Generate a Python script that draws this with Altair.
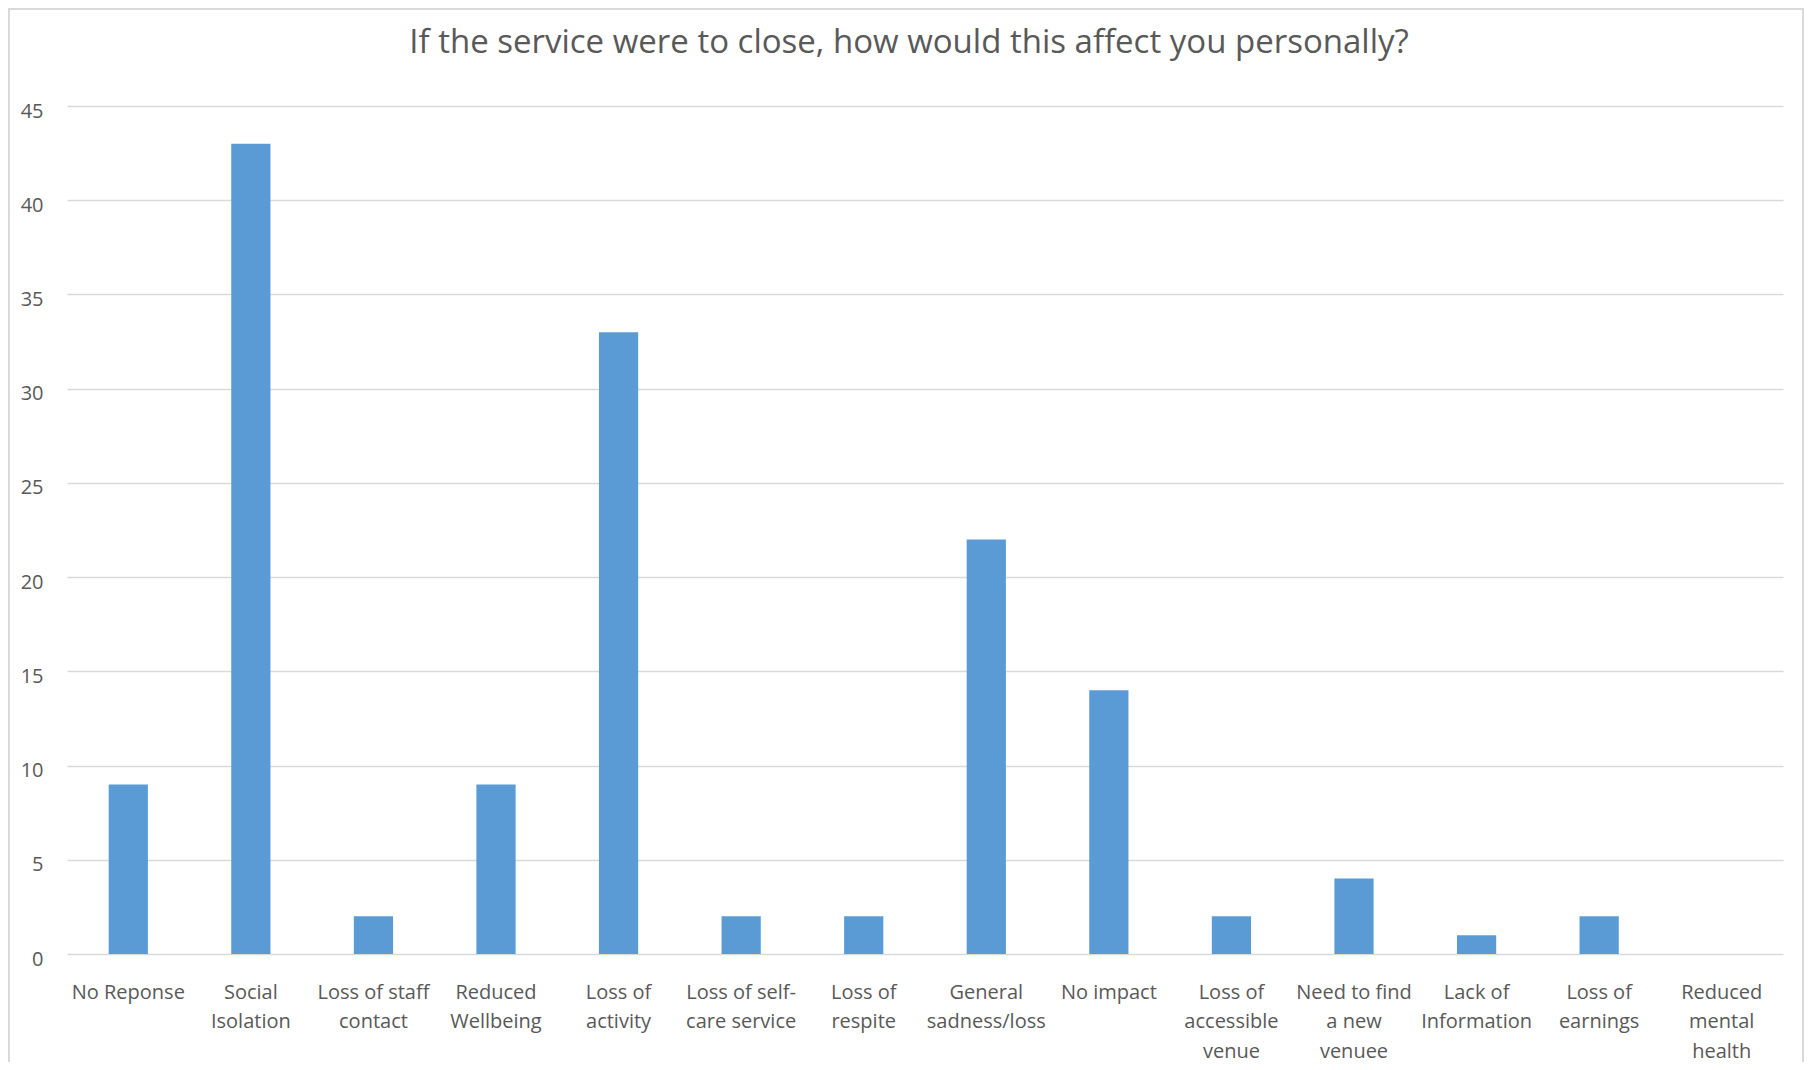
import altair as alt
import pandas as pd

categories = [
    "No Reponse",
    "Social\nIsolation",
    "Loss of staff\ncontact",
    "Reduced\nWellbeing",
    "Loss of\nactivity",
    "Loss of self-\ncare service",
    "Loss of\nrespite",
    "General\nsadness/loss",
    "No impact",
    "Loss of\naccessible\nvenue",
    "Need to find\na new\nvenuee",
    "Lack of\nInformation",
    "Loss of\nearnings",
    "Reduced\nmental\nhealth",
]
values = [9, 43, 2, 9, 33, 2, 2, 22, 14, 2, 4, 1, 2, 0]
y_ticks = [0, 5, 10, 15, 20, 25, 30, 35, 40, 45]

df = pd.DataFrame({"category": categories, "count": values})

TEXT = "#595959"
GRID = "#D9D9D9"
FONT = "Open Sans"
W, H = 1716, 848

bars = alt.Chart(df).mark_bar(color="#5B9BD5").encode(
    x=alt.X(
        "category:N",
        sort=categories,
        scale=alt.Scale(paddingInner=0.68, paddingOuter=0.34),
        axis=alt.Axis(
            title=None,
            labelAngle=0,
            labelExpr="split(datum.label, '\\n')",
            labelFont=FONT,
            labelFontSize=20,
            labelColor=TEXT,
            labelLineHeight=29.5,
            labelBaseline="top",
            labelPadding=28,
            labelLimit=300,
            ticks=False,
            tickSize=0,
            domain=False,
            grid=False,
        ),
    ),
    y=alt.Y(
        "count:Q",
        scale=alt.Scale(domain=[0, 45], nice=False),
        axis=alt.Axis(
            title=None,
            values=y_ticks,
            labelFont=FONT,
            labelFontSize=20,
            labelColor=TEXT,
            labelPadding=24,
            labelOffset=5,
            ticks=False,
            tickSize=0,
            domain=False,
            grid=True,
            gridColor=GRID,
            gridWidth=1.5,
        ),
    ),
)

frame = alt.Chart(pd.DataFrame({"a": [0]})).mark_rect(
    fill=None, stroke=GRID, strokeWidth=2
).encode(
    x=alt.value(-58),
    x2=alt.value(W + 20),
    y=alt.value(-97),
    y2=alt.value(H + 300),
)

chart = alt.layer(frame, bars).properties(
    width=W,
    height=H,
    autosize=alt.AutoSizeParams(type="none"),
    padding={"left": 59, "top": 98, "right": 21, "bottom": 108},
    title=alt.TitleParams(
        text="If the service were to close, how would this affect you personally?",
        font=FONT,
        fontSize=33,
        fontWeight="normal",
        color=TEXT,
        anchor="middle",
        dx=-16,
        baseline="bottom",
        offset=-85,
    ),
).configure_view(stroke=None)

chart.save("out.html", embed_options={"renderer": "svg", "actions": False})
